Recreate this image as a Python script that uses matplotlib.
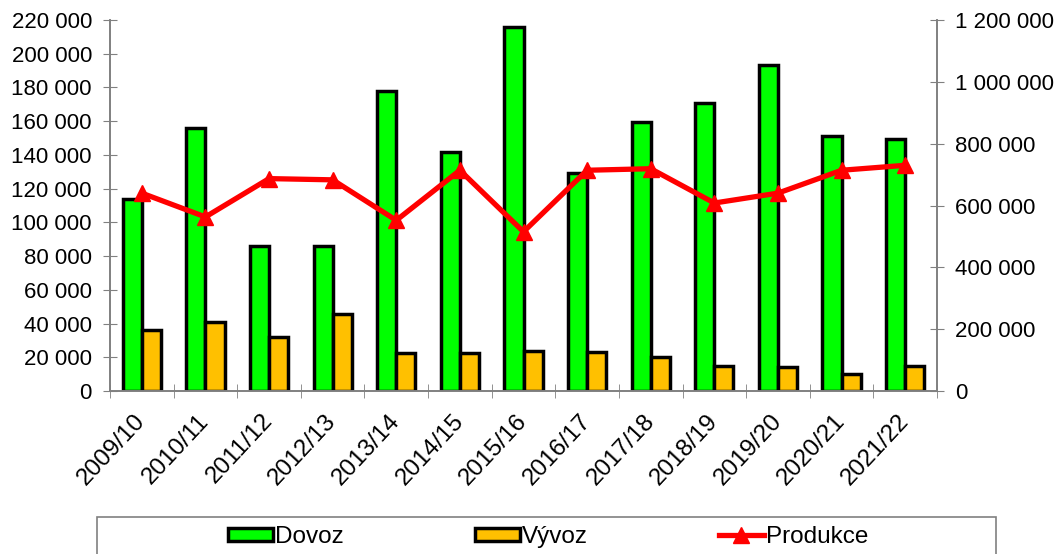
import matplotlib.pyplot as plt
import numpy as np
from matplotlib.patches import Rectangle
from matplotlib.ticker import FuncFormatter, MultipleLocator, FixedLocator

plt.rcParams['font.family'] = ['Liberation Sans', 'DejaVu Sans']

# Data
seasons = ['2009/10', '2010/11', '2011/12', '2012/13', '2013/14', '2014/15',
           '2015/16', '2016/17', '2017/18', '2018/19', '2019/20', '2020/21',
           '2021/22']
dovoz = [114000, 156000, 86000, 86000, 178000, 142000, 216000, 129500,
         159300, 170800, 193500, 151200, 149600]
vyvoz = [36000, 41000, 32000, 45500, 22700, 22700, 23700, 23300, 20300,
         15000, 14400, 9900, 15000]
produkce = [640000, 563000, 687000, 683000, 552000, 714000, 515000, 714000,
            719000, 608000, 640000, 714000, 730000]

green = '#00FF00'
orange = '#FFC000'
axis_gray = '#808080'


def space_thousands(v, pos):
    return '{:,.0f}'.format(v).replace(',', ' ')


fig = plt.figure(figsize=(10.59, 5.54), dpi=100)
ax = fig.add_axes([110 / 1059, 1 - 391 / 554, 827 / 1059, 371 / 554])
ax2 = ax.twinx()

x = np.arange(len(seasons))
w = 0.3
b1 = ax.bar(x - w / 2, dovoz, w, color=green, edgecolor='black', linewidth=2.5,
            label='Dovoz', zorder=2)
b2 = ax.bar(x + w / 2, vyvoz, w, color=orange, edgecolor='black', linewidth=2.5,
            label='Vývoz', zorder=2)
ln, = ax2.plot(x, produkce, color='#FF0000', linewidth=3.8, marker='^',
               markersize=11, label='Produkce', zorder=3)

ax.set_xlim(-0.5, len(seasons) - 0.5)
ax.set_ylim(0, 220000)
ax2.set_ylim(0, 1200000)
ax.yaxis.set_major_locator(MultipleLocator(20000))
ax2.yaxis.set_major_locator(MultipleLocator(200000))
ax.yaxis.set_major_formatter(FuncFormatter(space_thousands))
ax2.yaxis.set_major_formatter(FuncFormatter(space_thousands))

# labels at category centres, tick marks at category boundaries
ax.set_xticks(x)
ax.set_xticklabels(seasons, rotation=47, ha='right', va='center',
                   rotation_mode='anchor')
ax.xaxis.set_minor_locator(FixedLocator(np.arange(-0.5, len(seasons), 1.0)))
ax.tick_params(axis='x', which='major', length=0, pad=19, labelsize=17.5)
ax.tick_params(axis='x', which='minor', direction='inout', length=10,
               color=axis_gray)
ax.tick_params(axis='y', direction='inout', length=10, color=axis_gray,
               labelsize=16, pad=8)
ax2.tick_params(axis='y', direction='inout', length=10, color=axis_gray,
                labelsize=16, pad=8)

for a in (ax, ax2):
    a.spines['top'].set_visible(False)
    for s in ('left', 'right', 'bottom'):
        a.spines[s].set_color(axis_gray)
        a.spines[s].set_linewidth(1.2)

# legend box runs off the bottom edge like in the reference
fig.patches.append(Rectangle((97 / 1059, -0.05), 899 / 1059, 0.05 + 37 / 554,
                             transform=fig.transFigure, fill=False,
                             edgecolor=axis_gray, linewidth=1.2))
fig.legend(handles=[b1, b2, ln], loc='center', ncol=3, frameon=False,
           bbox_to_anchor=(548 / 1059, 1 - 537 / 554), fontsize=17.5,
           handlelength=1.85, handleheight=0.45, handletextpad=0.08,
           columnspacing=5.4)

fig.savefig('out.png', dpi=100)
